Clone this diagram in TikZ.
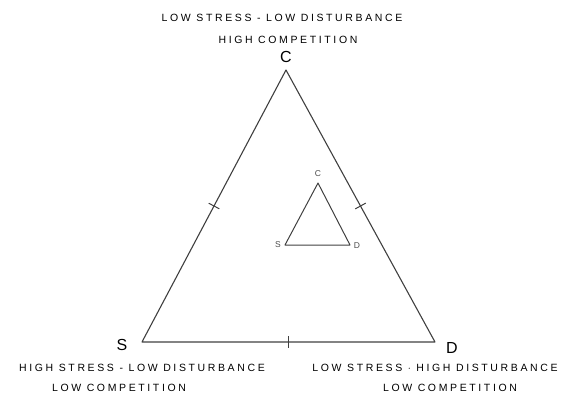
\documentclass[tikz,border=0pt]{standalone}
\usepackage{fontspec}
\setmainfont{Liberation Sans}
\usepackage{tikz}
\usetikzlibrary{positioning, calc}

\begin{document}
\begin{tikzpicture}[
    x=1pt, y=-1pt,
    side/.style={draw=black!75, line width=1.1pt, line join=round},
    tick/.style={draw=black!75, line width=1pt},
    caption/.style={font=\fontsize{10.5}{12}\selectfont\addfontfeature{LetterSpace=25}, inner sep=0pt},
    corner/.style={font=\fontsize{16}{18}\selectfont, inner sep=0pt},
    minicorner/.style={font=\fontsize{8.5}{9}\selectfont, inner sep=0pt, text=black!70},
]
\useasboundingbox (0,0) rectangle (574,394);

% Big triangle
\coordinate (C) at (286,70);
\coordinate (S) at (142,342);
\coordinate (D) at (435,342);
\draw[side] (C) -- (S) -- (D) -- cycle;

% Ticks at the side midpoints
\draw[tick] ($(C)!0.5!(S)!6pt!90:(S)$) -- ($(C)!0.5!(S)!6pt!-90:(S)$);
\draw[tick] ($(C)!0.5!(D)!6pt!90:(D)$) -- ($(C)!0.5!(D)!6pt!-90:(D)$);
\draw[tick] ($(S)!0.5!(D)!6pt!90:(D)$) -- ($(S)!0.5!(D)!6pt!-90:(D)$);

% Small triangle
\coordinate (c) at (318,183);
\coordinate (s) at (285,245);
\coordinate (d) at (350,245);
\draw[side, line width=1pt] (c) -- (s) -- (d) -- cycle;
\node[minicorner] (cl) at (318,174) {C};
\node[minicorner] (sl) at (278,245) {S};
\node[minicorner] (dl) at (357,246) {D};

% Corner letters
\node[corner] (Cl) at (286,57) {C};
\node[corner] (Sl) at (122,345) {S};
\node[corner] (Dl) at (452,348) {D};

% Corner captions
\node[caption] (Ctop) at (282,18) {LOW STRESS - LOW DISTURBANCE};
\node[caption] (Cbot) at (288,40) {HIGH COMPETITION};
\node[caption] (Stop) at (142,368) {HIGH STRESS - LOW DISTURBANCE};
\node[caption] (Sbot) at (119,388) {LOW COMPETITION};
\node[caption] (Dtop) at (435,368) {LOW STRESS $\cdot$ HIGH DISTURBANCE};
\node[caption] (Dbot) at (450,388) {LOW COMPETITION};

\end{tikzpicture}
\end{document}
